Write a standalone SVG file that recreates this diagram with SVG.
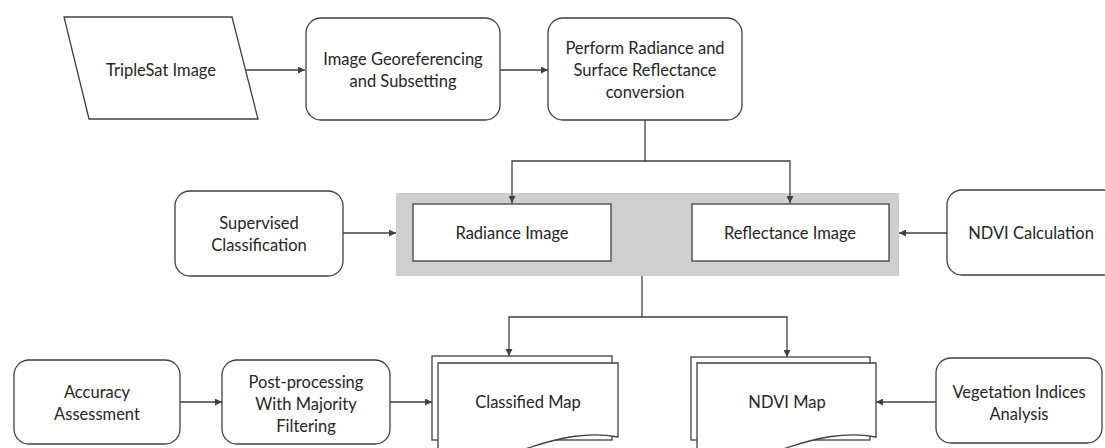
<svg xmlns="http://www.w3.org/2000/svg" width="1105" height="448" viewBox="0 0 1105 448">
<defs>
<style>
.n{fill:#fff;stroke:#404040;stroke-width:1.3}
.t{font-family:Lato,"Open Sans",sans-serif;font-size:16.5px;fill:#262626;text-anchor:middle}
.c{fill:none;stroke:#404040;stroke-width:1.3}
</style>
<marker id="a" viewBox="0 0 10 10" refX="10" refY="5" markerWidth="7" markerHeight="7" markerUnits="userSpaceOnUse" orient="auto">
<path d="M0,0 L10,5 L0,10 Z" fill="#404040"/>
</marker>
</defs>
<rect width="1105" height="448" fill="#fff"/>
<g id="band"><rect x="396" y="193" width="503" height="83" fill="#d0cece"/></g>
<g id="connectors">
<path class="c" d="M246,70 H305" marker-end="url(#a)"/>
<path class="c" d="M500,70 H548" marker-end="url(#a)"/>
<path class="c" d="M645,120 V161 H512 V203" marker-end="url(#a)"/>
<path class="c" d="M645,161 H790 V203" marker-end="url(#a)"/>
<path class="c" d="M343,233 H396" marker-end="url(#a)"/>
<path class="c" d="M947,233 H899" marker-end="url(#a)"/>
<path class="c" d="M642,276 V317 H509 V356" marker-end="url(#a)"/>
<path class="c" d="M642,317 H787 V357" marker-end="url(#a)"/>
<path class="c" d="M180,402 H222" marker-end="url(#a)"/>
<path class="c" d="M390,402 H432" marker-end="url(#a)"/>
<path class="c" d="M936,402 H876" marker-end="url(#a)"/>
</g>
<g id="triplesat">
<polygon class="n" points="64,17 232,17 258,119 89,119"/>
<text class="t" x="161" y="76">TripleSat Image</text>
</g>
<g id="georef">
<rect class="n" x="306" y="18" width="194" height="102" rx="15"/>
<text class="t" x="403" y="65">Image Georeferencing</text>
<text class="t" x="403" y="87">and Subsetting</text>
</g>
<g id="radconv">
<rect class="n" x="548" y="18" width="194" height="102" rx="15"/>
<text class="t" x="645" y="54">Perform Radiance and</text>
<text class="t" x="645" y="76">Surface Reflectance</text>
<text class="t" x="645" y="98">conversion</text>
</g>
<g id="supervised">
<rect class="n" x="175" y="191" width="168" height="85" rx="15"/>
<text class="t" x="259" y="229">Supervised</text>
<text class="t" x="259" y="251">Classification</text>
</g>
<g id="radiance">
<rect class="n" x="413" y="204" width="198" height="57"/>
<text class="t" x="512" y="239">Radiance Image</text>
</g>
<g id="reflectance">
<rect class="n" x="692" y="204" width="197" height="57"/>
<text class="t" x="790" y="239">Reflectance Image</text>
</g>
<g id="ndvicalc">
<rect class="n" x="947" y="190" width="170" height="85" rx="15"/>
<text class="t" x="1031" y="239">NDVI Calculation</text>
</g>
<g id="accuracy">
<rect class="n" x="14" y="360" width="166" height="84" rx="15"/>
<text class="t" x="97" y="398">Accuracy</text>
<text class="t" x="97" y="420">Assessment</text>
</g>
<g id="postproc">
<rect class="n" x="222" y="360" width="168" height="84" rx="15"/>
<text class="t" x="306" y="388">Post-processing</text>
<text class="t" x="306" y="410">With Majority</text>
<text class="t" x="306" y="432">Filtering</text>
</g>
<g id="classified">
<rect class="n" x="432" y="356" width="180" height="84"/>
<path class="n" d="M438,363 H618 V437 C588,431 558,438 528,448 C498,458 468,462 438,456 Z"/>
<text class="t" x="528" y="408">Classified Map</text>
</g>
<g id="ndvimap">
<rect class="n" x="691" y="357" width="179" height="83"/>
<path class="n" d="M697,363 H876 V437 C846,431 816,438 786,448 C756,458 726,462 697,456 Z"/>
<text class="t" x="787" y="408">NDVI Map</text>
</g>
<g id="vegetation">
<rect class="n" x="936" y="358" width="166" height="85" rx="15"/>
<text class="t" x="1019" y="398">Vegetation Indices</text>
<text class="t" x="1019" y="420">Analysis</text>
</g>
</svg>
